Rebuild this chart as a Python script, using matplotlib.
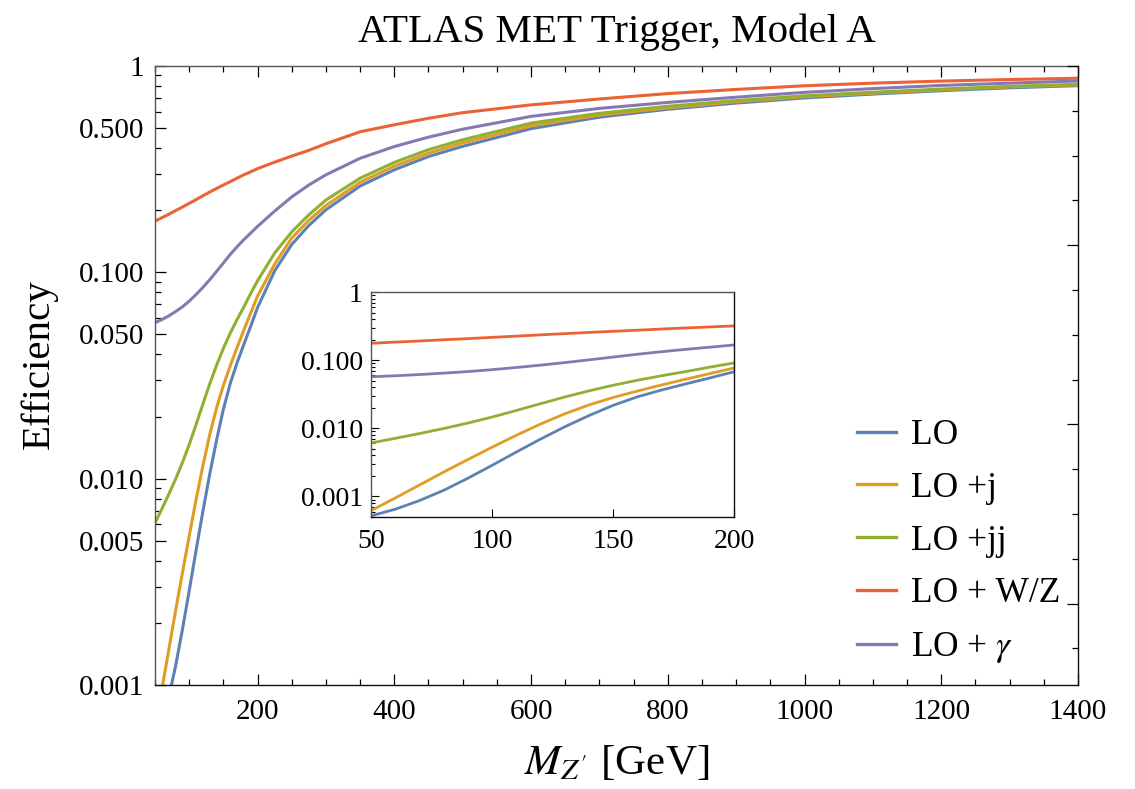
import numpy as np
import matplotlib
matplotlib.use("Agg")
import matplotlib.pyplot as plt
from matplotlib.ticker import FixedLocator, NullFormatter, MultipleLocator, NullLocator

plt.rcParams['font.family'] = ['Liberation Serif', 'DejaVu Serif']
plt.rcParams['mathtext.fontset'] = 'stix'

# ---------------- data ----------------
mass = [50, 60, 70, 80, 90, 100, 110, 120, 130, 140, 150, 160, 170, 180, 190, 200,
        225, 250, 275, 300, 350, 400, 450, 500, 600, 700, 800, 900, 1000, 1100, 1200, 1300, 1400]

eff_lo = [0.00052, 0.00065, 0.00087, 0.00123, 0.00185, 0.00286, 0.00448, 0.00693, 0.0105, 0.01535,
          0.0217, 0.0289, 0.0364, 0.0448, 0.0548, 0.0675,
          0.1016, 0.1365, 0.1687, 0.201, 0.262, 0.314, 0.364, 0.408, 0.497, 0.565, 0.617,
          0.661, 0.700, 0.731, 0.759, 0.784, 0.803]
eff_j = [0.00062, 0.00095, 0.00147, 0.00228, 0.00348, 0.00527, 0.00789, 0.01153, 0.0163, 0.0220,
         0.0283, 0.0352, 0.0432, 0.0525, 0.0635, 0.0767,
         0.1096, 0.1466, 0.1787, 0.211, 0.273, 0.327, 0.378, 0.424, 0.513, 0.578, 0.627,
         0.671, 0.710, 0.739, 0.767, 0.792, 0.810]
eff_jj = [0.0061, 0.00713, 0.00838, 0.00993, 0.01194, 0.01462, 0.01824, 0.02296, 0.02877, 0.0354,
          0.0428, 0.0507, 0.0590, 0.0680, 0.0790, 0.091,
          0.124, 0.157, 0.190, 0.224, 0.286, 0.341, 0.393, 0.439, 0.529, 0.590, 0.638,
          0.680, 0.717, 0.746, 0.773, 0.797, 0.815]
eff_wz = [0.177, 0.184, 0.191, 0.199, 0.207, 0.216, 0.225, 0.235, 0.245, 0.255,
          0.265, 0.275, 0.286, 0.297, 0.307, 0.318,
          0.342, 0.366, 0.390, 0.420, 0.480, 0.519, 0.558, 0.594, 0.648, 0.692, 0.735,
          0.770, 0.802, 0.826, 0.845, 0.860, 0.872]
eff_gamma = [0.057, 0.059, 0.0615, 0.0645, 0.068, 0.0725, 0.078, 0.0845, 0.092, 0.101,
             0.111, 0.122, 0.133, 0.144, 0.155, 0.167,
             0.198, 0.232, 0.265, 0.297, 0.357, 0.407, 0.452, 0.494, 0.570, 0.623, 0.666,
             0.706, 0.745, 0.777, 0.805, 0.826, 0.846]

labels = ["LO", "LO +j", "LO +jj", "LO + W/Z", r"LO + $\gamma$"]
series = [eff_lo, eff_j, eff_jj, eff_wz, eff_gamma]
colors = ["#5E81B5", "#E19C24", "#8FB032", "#EB6235", "#8778B3"]

main_xticks = [200, 400, 600, 800, 1000, 1200, 1400]
main_yticks = [0.001, 0.005, 0.01, 0.05, 0.1, 0.5, 1]
main_yticklabels = ["0.001", "0.005", "0.010", "0.050", "0.100", "0.500", "1"]
inset_xticks = [50, 100, 150, 200]
inset_yticks = [0.001, 0.01, 0.1, 1]
inset_yticklabels = ["0.001", "0.010", "0.100", "1"]

# ---------------- figure ----------------
W, H = 1135, 789
fig = plt.figure(figsize=(W / 100, H / 100), dpi=100)

def fig_rect(l, t, r, b):
    return [l / W, 1 - b / H, (r - l) / W, (b - t) / H]

ax = fig.add_axes(fig_rect(155, 66, 1078, 685))
for y, c, lab in zip(series, colors, labels):
    ax.plot(mass, y, color=c, lw=2.2, label=lab, solid_joinstyle='round')
ax.set_yscale('log')
ax.set_xlim(50, 1400)
ax.set_ylim(0.001, 1)

ax.xaxis.set_major_locator(FixedLocator(main_xticks))
ax.xaxis.set_minor_locator(MultipleLocator(50))
ax.set_xticklabels([str(v) for v in main_xticks])
ax.yaxis.set_major_locator(FixedLocator(main_yticks))
ax.set_yticklabels(main_yticklabels)
minor_y = [m * 10.0 ** k for k in (-3, -2, -1) for m in (2, 3, 4, 6, 7, 8, 9)]
ax.yaxis.set_minor_locator(FixedLocator(minor_y))
ax.yaxis.set_minor_formatter(NullFormatter())
ax.tick_params(which='both', direction='in', top=True, right=False, labelsize=21,
               colors='black', width=0.9)
ax.tick_params(which='major', length=8, pad=8)
ax.tick_params(which='minor', length=4.5)
ax.tick_params(axis='x', which='major', pad=10)

# right frame: natural-log ticks (Mathematica style)
axr = ax.twinx()
axr.set_ylim(np.log(0.001), 0)
axr.yaxis.set_major_locator(MultipleLocator(2))
axr.yaxis.set_minor_locator(MultipleLocator(0.5))
axr.tick_params(which='both', direction='in', labelright=False, width=0.9)
axr.tick_params(which='major', length=8)
axr.tick_params(which='minor', length=4.5)
for s in axr.spines.values():
    s.set_visible(False)

for name, sp in ax.spines.items():
    sp.set_linewidth(1.0)
    sp.set_color('#555555' if name in ('left', 'top') else '#111111')

ax.set_title("ATLAS MET Trigger, Model A", fontsize=29.5, pad=17)
ax.set_ylabel("Efficiency", fontsize=29.5)
ax.yaxis.set_label_coords(-0.126, (685 - 364) / 619)
ax.set_xlabel(r"$M_{Z'}$ [GeV]", fontsize=31)
ax.xaxis.set_label_coords(0.5, -(763 - 685) / 619, transform=ax.transAxes)
ax.xaxis.label.set_verticalalignment('center')
ax.yaxis.label.set_verticalalignment('center')

leg = ax.legend(loc='upper left', bbox_to_anchor=(857 / W, 1 - 419 / H),
                bbox_transform=fig.transFigure, frameon=False, fontsize=25.5,
                handlelength=1.1, handletextpad=0.42, labelspacing=0.56, borderpad=0,
                borderaxespad=0)
for line in leg.get_lines():
    line.set_linewidth(2.4)

# ---------------- inset ----------------
axi = fig.add_axes(fig_rect(371, 292, 734, 517))
for y, c in zip(series, colors):
    axi.plot(mass, y, color=c, lw=2.0, solid_joinstyle='round')
axi.set_yscale('log')
axi.set_xlim(50, 200)
axi.set_ylim(0.0005, 1)
axi.xaxis.set_major_locator(FixedLocator(inset_xticks))
axi.xaxis.set_minor_locator(NullLocator())
axi.set_xticklabels([str(v) for v in inset_xticks])
axi.yaxis.set_major_locator(FixedLocator(inset_yticks))
axi.set_yticklabels(inset_yticklabels)
minor_yi = [m * 10.0 ** k for k in (-4, -3, -2, -1) for m in range(2, 10)
            if 0.0005 <= m * 10.0 ** k <= 1]
axi.yaxis.set_minor_locator(FixedLocator(minor_yi))
axi.yaxis.set_minor_formatter(NullFormatter())
axi.tick_params(which='both', direction='in', labelsize=20, width=0.8)
axi.tick_params(which='major', length=6, pad=6)
axi.tick_params(which='minor', length=3)
axi.tick_params(axis='x', pad=9)
for name, sp in axi.spines.items():
    sp.set_linewidth(1.0)
    sp.set_color('#555555' if name in ('left', 'top') else '#111111')

fig.savefig("out.png", dpi=100)
